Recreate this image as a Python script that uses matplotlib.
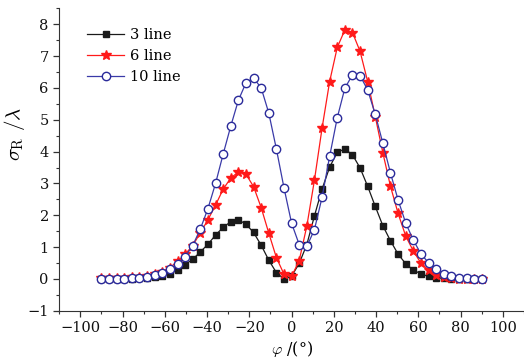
import numpy as np
import matplotlib
matplotlib.use('Agg')
import matplotlib.pyplot as plt
from matplotlib.ticker import MultipleLocator

plt.rcParams['font.family'] = 'DejaVu Serif'
plt.rcParams['mathtext.fontset'] = 'cm'

# angle grid, -90..90 deg
phi = np.linspace(-90, 90, 51)

line3 = [0, 0, 0, 0, 0.01, 0.02, 0.03, 0.06, 0.1, 0.17,
         0.28, 0.45, 0.62, 0.85, 1.09, 1.38, 1.62, 1.8, 1.86, 1.72,
         1.46, 1.06, 0.59, 0.2, 0.0, 0.09, 0.49, 1.08, 1.98, 2.82,
         3.51, 3.98, 4.08, 3.9, 3.49, 2.91, 2.28, 1.67, 1.2, 0.78,
         0.48, 0.28, 0.16, 0.08, 0.04, 0.02, 0.01, 0, 0, 0, 0]

line6 = [0.02, 0.02, 0.03, 0.04, 0.05, 0.07, 0.1, 0.15, 0.23, 0.36,
         0.55, 0.78, 1.05, 1.45, 1.86, 2.32, 2.82, 3.17, 3.36, 3.29,
         2.9, 2.24, 1.44, 0.67, 0.15, 0.08, 0.58, 1.66, 3.1, 4.73,
         6.2, 7.27, 7.82, 7.74, 7.15, 6.2, 5.1, 3.96, 2.91, 2.06,
         1.35, 0.88, 0.5, 0.28, 0.13, 0.06, 0.03, 0.01, 0, 0, 0]

line10 = [0, 0, 0.01, 0.01, 0.02, 0.03, 0.07, 0.12, 0.2, 0.3,
          0.47, 0.7, 1.05, 1.57, 2.21, 3.0, 3.92, 4.8, 5.61, 6.16,
          6.31, 6.0, 5.21, 4.08, 2.86, 1.75, 1.08, 1.02, 1.55, 2.56,
          3.85, 5.06, 5.99, 6.41, 6.38, 5.94, 5.17, 4.26, 3.33, 2.48,
          1.76, 1.22, 0.79, 0.51, 0.31, 0.16, 0.08, 0.04, 0.02, 0.01, 0]

fig = plt.figure(figsize=(5.24, 3.61), dpi=100)
ax = fig.add_axes([0.113, 0.139, 0.887, 0.838])

ax.plot(phi, line3, color='#1a1a1a', linewidth=0.9, marker='s',
        markersize=5, label='3 line')
ax.plot(phi, line6, color='#ff1a1a', linewidth=0.9, marker='*',
        markersize=7, label='6 line')
ax.plot(phi, line10, color='#3a3aa8', linewidth=0.9, marker='o',
        markersize=6, markerfacecolor='white', markeredgecolor='#2a2a9a',
        markeredgewidth=1.0, label='10 line')

ax.set_xlim(-110, 110)
ax.set_ylim(-1, 8.5)
ax.set_xticks(np.arange(-100, 101, 20))
ax.set_yticks(np.arange(-1, 9, 1))
ax.xaxis.set_minor_locator(MultipleLocator(10))
ax.yaxis.set_minor_locator(MultipleLocator(0.5))

for s in ['top', 'right']:
    ax.spines[s].set_visible(False)
for s in ['left', 'bottom']:
    ax.spines[s].set_color('#333333')

ax.tick_params(which='major', direction='out', length=4, width=0.9,
               labelsize=10.5, colors='#333333', labelcolor='#111111')
ax.tick_params(which='minor', direction='out', length=2.5, width=0.8,
               colors='#333333')

ax.set_xlabel(r'$\varphi$ /(°)', fontsize=11.5)
ax.set_ylabel(r'$\sigma_{\mathrm{R}}\ /\lambda$', fontsize=15)
ax.yaxis.set_label_coords(-0.07, 0.585)
ax.xaxis.set_label_coords(0.5, -0.092)

ax.legend(loc='upper left', bbox_to_anchor=(0.04, 0.965), frameon=False,
          fontsize=10.5, handlelength=2.6, handletextpad=0.4,
          labelspacing=0.5, borderaxespad=0.2)

fig.savefig('out.png', dpi=100)
